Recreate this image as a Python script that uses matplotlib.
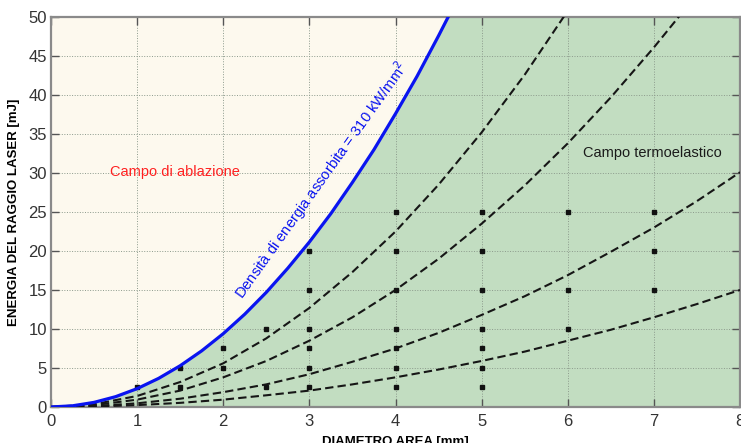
import numpy as np
import matplotlib
matplotlib.use('Agg')
import matplotlib.pyplot as plt

# diametro area [mm], passo 0.5
diam = [0, 0.5, 1, 1.5, 2, 2.5, 3, 3.5, 4, 4.5, 5, 5.5, 6, 6.5, 7, 7.5, 8]

# soglia di ablazione (310 kW/mm^2), passo 0.25 [mm] -> [mJ]
diam_soglia = [0, 0.25, 0.5, 0.75, 1, 1.25, 1.5, 1.75, 2, 2.25,
               2.5, 2.75, 3, 3.25, 3.5, 3.75, 4, 4.25, 4.5, 4.75]
soglia = [0, 0.15, 0.59, 1.32, 2.35, 3.67, 5.29, 7.2, 9.4, 11.9,
          14.7, 17.8, 21.15, 24.8, 28.8, 33.0, 37.6, 42.4, 47.6, 53.0]

# curve a densita' ridotta [mJ]
curva_1 = [0, 0.35, 1.41, 3.2, 5.6, 8.8, 12.7, 17.3, 22.5, 28.5, 35.2, 42.6, 50.8]
curva_2 = [0, 0.24, 0.94, 2.1, 3.8, 5.9, 8.5, 11.5, 15.0, 19.0, 23.5, 28.4, 33.8, 39.7, 46.1, 52.9]
curva_3 = [0, 0.12, 0.47, 1.06, 1.9, 2.9, 4.2, 5.8, 7.5, 9.5, 11.8, 14.2, 16.9, 19.9, 23.0, 26.4, 30.1]
curva_4 = [0, 0.06, 0.24, 0.53, 0.94, 1.5, 2.1, 2.9, 3.8, 4.8, 5.9, 7.1, 8.5, 9.9, 11.5, 13.2, 15.0]

# punti di misura
punti_d = [1, 1.5, 1.5, 2, 2, 2.5, 2.5,
           3, 3, 3, 3, 3, 3,
           4, 4, 4, 4, 4, 4, 4,
           5, 5, 5, 5, 5, 5, 5,
           6, 6, 6, 7, 7, 7]
punti_e = [2.5, 2.5, 5, 5, 7.5, 2.5, 10,
           2.5, 5, 7.5, 10, 15, 20,
           2.5, 5, 7.5, 10, 15, 20, 25,
           2.5, 5, 7.5, 10, 15, 20, 25,
           10, 15, 25, 15, 20, 25]

xticks = [0, 1, 2, 3, 4, 5, 6, 7, 8]
yticks = [0, 5, 10, 15, 20, 25, 30, 35, 40, 45, 50]

crema = '#fdf9ee'
verde = '#c2ddc1'
plt.rcParams['font.family'] = ['Liberation Sans', 'DejaVu Sans']

fig = plt.figure(figsize=(7.41, 4.43), dpi=100)
ax = fig.add_axes([0.0688, 0.0813, 0.9299, 0.8803])
ax.set_facecolor(verde)

ax.fill_between(diam_soglia, soglia, 60, color=crema, lw=0, zorder=0)

ax.grid(True, linestyle=':', color='#8c9a8c', linewidth=0.7, zorder=1)
ax.set_axisbelow(True)

stile = dict(color='#161616', linestyle=(0, (4, 2.0)), linewidth=1.5, zorder=3)
ax.plot(diam[:len(curva_1)], curva_1, **stile)
ax.plot(diam[:len(curva_2)], curva_2, **stile)
ax.plot(diam, curva_3, **stile)
ax.plot(diam, curva_4, **stile)
ax.plot(diam_soglia, soglia, color='#0a14f0', linewidth=2.3, zorder=4)

ax.plot(punti_d, punti_e, 's', color='#111111', markersize=2.6, linestyle='none', zorder=3)

ax.text(1.44, 30.1, 'Campo di ablazione', color='#ff2020', fontsize=10.5,
        ha='center', va='center')
ax.text(6.98, 32.6, 'Campo termoelastico', color='#1a1a1a', fontsize=10.5,
        ha='center', va='center')
ax.text(3.14, 29.0, 'Densità di energia assorbita = 310 kW/mm$^2$', color='#0a14f0',
        fontsize=10.6, ha='center', va='center', rotation=54.5, rotation_mode='anchor')

ax.set_xlim(0, 8)
ax.set_ylim(0, 50)
ax.set_xticks(xticks)
ax.set_yticks(yticks)
ax.tick_params(direction='in', length=6, width=1, color='#555555', labelsize=12,
               labelcolor='#333333', top=True, right=True)
ax.tick_params(axis='x', pad=5)
ax.tick_params(axis='y', pad=3)
for s in ax.spines.values():
    s.set_color('#8a8a8a')
    s.set_linewidth(1.6)

ax.set_xlabel('DIAMETRO AREA [mm]', fontsize=9.5, fontweight='bold', labelpad=5)
ax.set_ylabel('ENERGIA DEL RAGGIO LASER [mJ]', fontsize=9.5, fontweight='bold', labelpad=6)

fig.savefig('out.png', dpi=100)
